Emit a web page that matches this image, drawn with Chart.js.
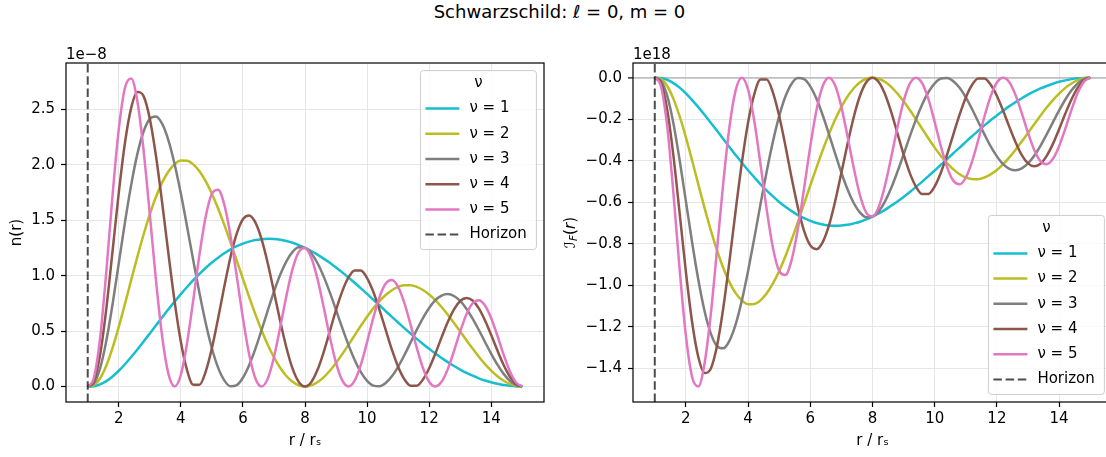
<!DOCTYPE html>
<html>
<head>
<meta charset="utf-8">
<script src="https://cdn.jsdelivr.net/npm/chart.js@4.4.0/dist/chart.umd.min.js"></script>
<style>
  html, body { margin: 0; padding: 0; background: #fff; overflow: hidden; width: 1106px; height: 457px; }
  #title { position: absolute; left: 0; top: 0; width: 1119px; text-align: center; font: 18px 'DejaVu Sans', sans-serif; line-height: 24px; color: #000; }
  canvas { position: absolute; top: 0; }
</style>
</head>
<body>
<div id="title">Schwarzschild: ℓ = 0, m = 0</div>
<canvas id="left" width="560" height="457" style="left:0"></canvas>
<canvas id="right" width="570" height="457" style="left:560px"></canvas>
<script>
// r / r_s sample points
const rValues = [
  1.0, 1.2, 1.4, 1.6, 1.8, 2.0, 2.2, 2.4, 2.6, 2.8,
  3.0, 3.2, 3.4, 3.6, 3.8, 4.0, 4.2, 4.4, 4.6, 4.8,
  5.0, 5.2, 5.4, 5.6, 5.8, 6.0, 6.2, 6.4, 6.6, 6.8,
  7.0, 7.2, 7.4, 7.6, 7.8, 8.0, 8.2, 8.4, 8.6, 8.8,
  9.0, 9.2, 9.4, 9.6, 9.8, 10.0, 10.2, 10.4, 10.6, 10.8,
  11.0, 11.2, 11.4, 11.6, 11.8, 12.0, 12.2, 12.4, 12.6, 12.8,
  13.0, 13.2, 13.4, 13.6, 13.8, 14.0, 14.2, 14.4, 14.6, 14.8,
  15.0
];

// n(r), units of 1e-8
const n1 = [
  0, 0.003, 0.019, 0.048, 0.090, 0.142, 0.201, 0.266, 0.334, 0.406,
  0.479, 0.552, 0.625, 0.697, 0.766, 0.834, 0.898, 0.960, 1.017, 1.070,
  1.119, 1.163, 1.202, 1.237, 1.266, 1.290, 1.308, 1.322, 1.330, 1.333,
  1.331, 1.325, 1.313, 1.297, 1.276, 1.251, 1.223, 1.190, 1.154, 1.116,
  1.074, 1.030, 0.984, 0.936, 0.886, 0.836, 0.784, 0.733, 0.681, 0.629,
  0.578, 0.527, 0.478, 0.430, 0.384, 0.340, 0.297, 0.257, 0.220, 0.185,
  0.153, 0.124, 0.098, 0.074, 0.054, 0.038, 0.024, 0.013, 0.006, 0.001,
  0
];
const n2 = [
  0, 0.013, 0.074, 0.190, 0.349, 0.538, 0.746, 0.961, 1.172, 1.372,
  1.554, 1.712, 1.842, 1.940, 2.006, 2.039, 2.038, 2.005, 1.942, 1.853,
  1.740, 1.607, 1.459, 1.301, 1.137, 0.971, 0.809, 0.653, 0.508, 0.377,
  0.264, 0.169, 0.095, 0.042, 0.010, 0, 0.010, 0.038, 0.083, 0.142,
  0.213, 0.292, 0.376, 0.462, 0.548, 0.629, 0.705, 0.771, 0.826, 0.869,
  0.899, 0.913, 0.914, 0.899, 0.871, 0.831, 0.779, 0.717, 0.648, 0.574,
  0.497, 0.418, 0.342, 0.269, 0.202, 0.143, 0.092, 0.052, 0.023, 0.006,
  0
];
const n3 = [
  0, 0.029, 0.165, 0.414, 0.743, 1.112, 1.482, 1.820, 2.100, 2.302,
  2.416, 2.438, 2.370, 2.222, 2.006, 1.741, 1.445, 1.139, 0.843, 0.573,
  0.345, 0.170, 0.055, 0.003, 0.013, 0.079, 0.191, 0.339, 0.508, 0.685,
  0.856, 1.008, 1.130, 1.215, 1.256, 1.251, 1.203, 1.115, 0.994, 0.849,
  0.691, 0.529, 0.376, 0.240, 0.129, 0.051, 0.008, 0.002, 0.031, 0.092,
  0.178, 0.282, 0.396, 0.511, 0.618, 0.709, 0.779, 0.821, 0.834, 0.817,
  0.772, 0.702, 0.613, 0.510, 0.402, 0.295, 0.197, 0.114, 0.052, 0.013,
  0
];
const n4 = [
  0, 0.051, 0.288, 0.705, 1.223, 1.748, 2.200, 2.515, 2.659, 2.621,
  2.416, 2.078, 1.654, 1.199, 0.766, 0.404, 0.147, 0.016, 0.016, 0.134,
  0.345, 0.614, 0.902, 1.169, 1.380, 1.510, 1.544, 1.481, 1.330, 1.113,
  0.856, 0.592, 0.352, 0.161, 0.041, 0, 0.039, 0.148, 0.309, 0.499,
  0.691, 0.859, 0.984, 1.048, 1.046, 0.979, 0.855, 0.692, 0.511, 0.332,
  0.178, 0.066, 0.007, 0.007, 0.063, 0.165, 0.297, 0.443, 0.582, 0.697,
  0.772, 0.799, 0.776, 0.705, 0.596, 0.464, 0.324, 0.194, 0.090, 0.023,
  0
];
const n5 = [
  0, 0.079, 0.440, 1.042, 1.727, 2.322, 2.696, 2.781, 2.574, 2.132,
  1.554, 0.955, 0.447, 0.114, 0, 0.106, 0.391, 0.781, 1.190, 1.532,
  1.740, 1.777, 1.641, 1.362, 0.998, 0.618, 0.291, 0.075, 0, 0.071,
  0.264, 0.532, 0.817, 1.061, 1.215, 1.251, 1.164, 0.974, 0.719, 0.448,
  0.213, 0.055, 0, 0.053, 0.197, 0.400, 0.618, 0.807, 0.929, 0.961,
  0.899, 0.755, 0.560, 0.350, 0.167, 0.043, 0, 0.042, 0.157, 0.320,
  0.497, 0.650, 0.751, 0.779, 0.731, 0.616, 0.458, 0.287, 0.137, 0.036,
  0
];

// I_F(r), units of 1e18
const f1 = [
  0, -0.002, -0.010, -0.026, -0.048, -0.076, -0.108, -0.142, -0.179, -0.217,
  -0.256, -0.295, -0.334, -0.373, -0.410, -0.446, -0.480, -0.514, -0.544, -0.572,
  -0.599, -0.622, -0.643, -0.662, -0.677, -0.690, -0.700, -0.707, -0.712, -0.713,
  -0.712, -0.709, -0.702, -0.694, -0.683, -0.669, -0.654, -0.637, -0.617, -0.597,
  -0.575, -0.551, -0.526, -0.501, -0.474, -0.447, -0.419, -0.392, -0.364, -0.337,
  -0.309, -0.282, -0.256, -0.230, -0.205, -0.182, -0.159, -0.137, -0.118, -0.099,
  -0.082, -0.066, -0.052, -0.040, -0.029, -0.020, -0.013, -0.007, -0.003, -0.001,
  0
];
const f2 = [
  0, -0.007, -0.040, -0.102, -0.187, -0.288, -0.399, -0.514, -0.627, -0.734,
  -0.831, -0.916, -0.985, -1.038, -1.073, -1.091, -1.090, -1.073, -1.039, -0.991,
  -0.931, -0.860, -0.781, -0.696, -0.608, -0.519, -0.433, -0.349, -0.272, -0.202,
  -0.141, -0.090, -0.051, -0.022, -0.005, 0, -0.005, -0.020, -0.044, -0.076,
  -0.114, -0.156, -0.201, -0.247, -0.293, -0.337, -0.377, -0.412, -0.442, -0.465,
  -0.481, -0.488, -0.489, -0.481, -0.466, -0.445, -0.417, -0.384, -0.347, -0.307,
  -0.266, -0.224, -0.183, -0.144, -0.108, -0.077, -0.049, -0.028, -0.012, -0.003,
  0
];
const f3 = [
  0, -0.016, -0.088, -0.221, -0.398, -0.595, -0.793, -0.974, -1.124, -1.232,
  -1.293, -1.304, -1.268, -1.189, -1.073, -0.931, -0.773, -0.609, -0.451, -0.307,
  -0.185, -0.091, -0.029, -0.002, -0.007, -0.042, -0.102, -0.181, -0.272, -0.366,
  -0.458, -0.539, -0.605, -0.650, -0.672, -0.669, -0.644, -0.597, -0.532, -0.454,
  -0.370, -0.283, -0.201, -0.128, -0.069, -0.027, -0.004, -0.001, -0.017, -0.049,
  -0.095, -0.151, -0.212, -0.273, -0.331, -0.379, -0.417, -0.439, -0.446, -0.437,
  -0.413, -0.376, -0.328, -0.273, -0.215, -0.158, -0.105, -0.061, -0.028, -0.007,
  0
];
const f4 = [
  0, -0.027, -0.154, -0.377, -0.654, -0.935, -1.177, -1.346, -1.423, -1.402,
  -1.293, -1.112, -0.885, -0.641, -0.410, -0.216, -0.079, -0.009, -0.009, -0.072,
  -0.185, -0.328, -0.483, -0.625, -0.738, -0.808, -0.826, -0.792, -0.712, -0.595,
  -0.458, -0.317, -0.188, -0.086, -0.022, 0, -0.021, -0.079, -0.165, -0.267,
  -0.370, -0.460, -0.526, -0.561, -0.560, -0.524, -0.457, -0.370, -0.273, -0.178,
  -0.095, -0.035, -0.004, -0.004, -0.034, -0.088, -0.159, -0.237, -0.311, -0.373,
  -0.413, -0.427, -0.415, -0.377, -0.319, -0.248, -0.173, -0.104, -0.048, -0.012,
  0
];
const f5 = [
  0, -0.042, -0.235, -0.557, -0.924, -1.242, -1.442, -1.488, -1.377, -1.141,
  -0.831, -0.511, -0.239, -0.061, 0, -0.057, -0.209, -0.418, -0.637, -0.820,
  -0.931, -0.951, -0.878, -0.729, -0.534, -0.331, -0.156, -0.040, 0, -0.038,
  -0.141, -0.285, -0.437, -0.568, -0.650, -0.669, -0.623, -0.521, -0.385, -0.240,
  -0.114, -0.029, 0, -0.028, -0.105, -0.214, -0.331, -0.432, -0.497, -0.514,
  -0.481, -0.404, -0.300, -0.187, -0.089, -0.023, 0, -0.022, -0.084, -0.171,
  -0.266, -0.348, -0.402, -0.417, -0.391, -0.330, -0.245, -0.154, -0.073, -0.019,
  0
];

const nuLabels = ['ν = 1', 'ν = 2', 'ν = 3', 'ν = 4', 'ν = 5'];
const nuColors = ['#17becf', '#bcbd22', '#7f7f7f', '#8c564b', '#e377c2'];
const horizonR = 1;
const horizonLabel = 'Horizon';

const xTicks = [2, 4, 6, 8, 10, 12, 14];
const leftYTicks = [0, 0.5, 1.0, 1.5, 2.0, 2.5];
const rightYTicks = [0, -0.2, -0.4, -0.6, -0.8, -1.0, -1.2, -1.4];
const xLim = [0.3, 15.7];
const leftYLim = [-0.14, 2.92];
const rightYLim = [-1.5625, 0.0707];

const FONT = "'DejaVu Sans', sans-serif";
Chart.defaults.font.family = FONT;
Chart.defaults.color = '#000';

const minus = s => s.replace('-', '\u2212');

// spines + offset text
const frame = {
    id: 'frame',
    afterDraw(chart, args, o) {
        const { ctx, chartArea: a } = chart;
        ctx.save();
        ctx.fillStyle = '#000';
        ctx.font = '15px ' + FONT;
        ctx.textBaseline = 'alphabetic';
        ctx.textAlign = 'left';
        ctx.fillText(o.offsetText, a.left, a.top - 4);
        ctx.strokeStyle = '#000';
        ctx.lineWidth = 1.2;
        ctx.strokeRect(a.left, a.top, a.right - a.left, a.bottom - a.top);
        ctx.restore();
    }
};

// matplotlib-like legend box inside the axes
const mplLegend = {
    id: 'mplLegend',
    afterDraw(chart, args, o) {
        const { ctx, chartArea: a } = chart;
        const w = 116, h = 179, inset = 7.6;
        const x0 = a.right - inset - w;
        const y0 = o.loc === 'upper right' ? a.top + inset : a.bottom - inset - h;
        ctx.save();
        ctx.beginPath();
        ctx.roundRect(x0, y0, w, h, 3);
        ctx.fillStyle = 'rgba(255,255,255,0.8)';
        ctx.fill();
        ctx.strokeStyle = '#cccccc';
        ctx.lineWidth = 1;
        ctx.stroke();
        ctx.font = '15px ' + FONT;
        ctx.fillStyle = '#000';
        ctx.textBaseline = 'middle';
        ctx.textAlign = 'center';
        ctx.fillText(o.title, x0 + w / 2, y0 + 12.5);
        ctx.textAlign = 'left';
        chart.data.datasets.forEach((ds, i) => {
            const y = y0 + 38 + i * 25.2;
            ctx.beginPath();
            ctx.setLineDash(ds.borderDash || []);
            ctx.strokeStyle = ds.borderColor;
            ctx.lineWidth = ds.borderWidth;
            ctx.moveTo(x0 + 5, y);
            ctx.lineTo(x0 + 39, y);
            ctx.stroke();
            ctx.setLineDash([]);
            ctx.fillText(ds.label, x0 + 49, y);
        });
        ctx.restore();
    }
};

// y label with calligraphic I and subscript F, drawn rotated
const fluxLabelParts = [
    { t: '\u2110', font: '15px ' + FONT, dy: 0 },
    { t: 'F', font: 'italic 10.5px ' + FONT, dy: 3.5 },
    { t: '(', font: '15px ' + FONT, dy: 0 },
    { t: 'r', font: 'italic 15px ' + FONT, dy: 0 },
    { t: ')', font: '15px ' + FONT, dy: 0 }
];
const fluxTitle = {
    id: 'fluxTitle',
    afterDraw(chart, args, o) {
        const { ctx, chartArea: a } = chart;
        ctx.save();
        ctx.fillStyle = '#000';
        ctx.textBaseline = 'middle';
        ctx.textAlign = 'left';
        let total = 0;
        const widths = fluxLabelParts.map(p => { ctx.font = p.font; const m = ctx.measureText(p.t).width; total += m; return m; });
        ctx.translate(o.x, (a.top + a.bottom) / 2);
        ctx.rotate(-Math.PI / 2);
        let x = -total / 2;
        fluxLabelParts.forEach((p, i) => {
            ctx.font = p.font;
            ctx.fillText(p.t, x, p.dy);
            x += widths[i];
        });
        ctx.restore();
    }
};

function makeSets(series, yLim) {
    const sets = series.map((vals, i) => ({
        label: nuLabels[i],
        data: rValues.map((r, k) => ({ x: r, y: vals[k] })),
        borderColor: nuColors[i],
        borderWidth: 2.5,
        pointRadius: 0,
        cubicInterpolationMode: 'monotone',
        order: series.length - i
    }));
    sets.push({
        label: horizonLabel,
        data: [{ x: horizonR, y: yLim[0] }, { x: horizonR, y: yLim[1] }],
        borderColor: 'rgba(0,0,0,0.7)',
        borderWidth: 2,
        borderDash: [8.5, 3.7],
        pointRadius: 0,
        order: 0
    });
    return sets;
}

function makeChart(id, cfg) {
    return new Chart(document.getElementById(id), {
        type: 'line',
        data: { datasets: makeSets(cfg.series, cfg.yLim) },
        plugins: cfg.plugins,
        options: {
            responsive: false,
            animation: false,
            devicePixelRatio: 1,
            events: [],
            layout: { padding: { left: 0, top: 63, right: cfg.padRight, bottom: 0 } },
            plugins: {
                legend: { display: false },
                tooltip: { enabled: false },
                frame: { offsetText: cfg.offsetText },
                mplLegend: { loc: cfg.legendLoc, title: 'ν' },
                fluxTitle: { x: 11 }
            },
            scales: {
                x: {
                    type: 'linear',
                    min: xLim[0], max: xLim[1],
                    afterBuildTicks: s => { s.ticks = xTicks.map(v => ({ value: v })); },
                    afterFit: s => { s.height = 55; },
                    border: { display: false },
                    grid: { color: '#e6e6e6', lineWidth: 1, tickColor: '#000', tickLength: 5, tickWidth: 1.2 },
                    ticks: { font: { size: 15 }, padding: 3, maxRotation: 0, autoSkip: false, callback: v => String(v) },
                    title: { display: true, text: 'r / rₛ', font: { size: 15 }, padding: { top: 0, bottom: 7 } }
                },
                y: {
                    type: 'linear',
                    min: cfg.yLim[0], max: cfg.yLim[1],
                    afterBuildTicks: s => { s.ticks = cfg.yTicks.map(v => ({ value: v })); },
                    afterFit: s => { s.width = cfg.yWidth; },
                    border: { display: false },
                    grid: {
                        color: c => (cfg.zeroLine && c.tick && c.tick.value === 0) ? '#bfbfbf' : '#e6e6e6',
                        lineWidth: c => (cfg.zeroLine && c.tick && c.tick.value === 0) ? 1.8 : 1,
                        tickColor: '#000', tickLength: 5, tickWidth: 1.2
                    },
                    ticks: { font: { size: 15 }, padding: 6, autoSkip: false, callback: v => minus(v.toFixed(1)) },
                    title: { display: cfg.yTitle !== '', text: cfg.yTitle, font: { size: 15 }, padding: { top: 8, bottom: 0 } }
                }
            }
        }
    });
}

makeChart('left', {
    series: [n1, n2, n3, n4, n5],
    yLim: leftYLim,
    yTicks: leftYTicks,
    yWidth: 66,
    padRight: 16,
    yTitle: 'n(r)',
    offsetText: '1e\u22128',
    legendLoc: 'upper right',
    zeroLine: false,
    plugins: [frame, mplLegend]
});

makeChart('right', {
    series: [f1, f2, f3, f4, f5],
    yLim: rightYLim,
    yTicks: rightYTicks,
    yWidth: 73,
    padRight: 18,
    yTitle: '',
    offsetText: '1e18',
    legendLoc: 'lower right',
    zeroLine: true,
    plugins: [frame, mplLegend, fluxTitle]
});
</script>
</body>
</html>
